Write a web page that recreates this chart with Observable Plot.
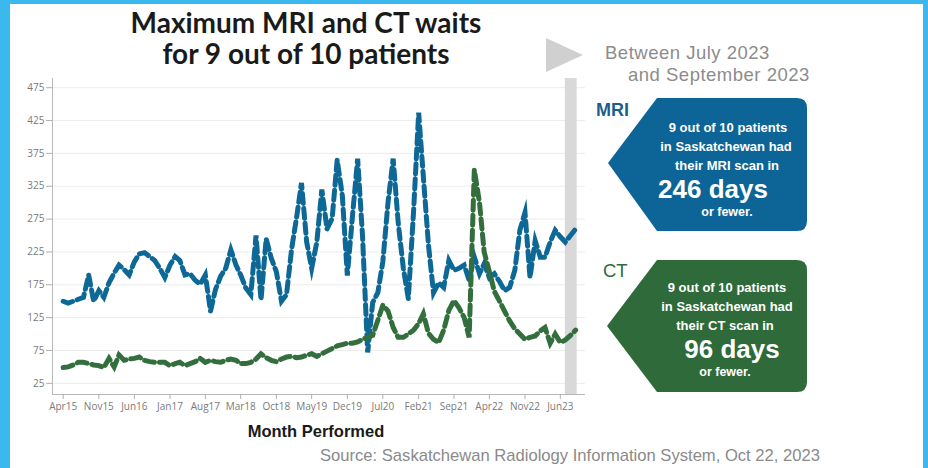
<!DOCTYPE html>
<html>
<head>
<meta charset="utf-8">
<script src="https://cdn.jsdelivr.net/npm/d3@7"></script>
<script src="https://cdn.jsdelivr.net/npm/@observablehq/plot@0.6"></script>
<style>
  html, body { margin: 0; padding: 0; background: #fff; }
  #wrap { position: relative; width: 928px; height: 468px; overflow: hidden; background: #fff; }
  #chart { position: absolute; left: 0; top: 0; }
  #overlay { position: absolute; left: 0; top: 0; pointer-events: none; }
</style>
</head>
<body>
<div id="wrap">
  <div id="chart"></div>
  <svg id="overlay" width="928" height="468" xmlns="http://www.w3.org/2000/svg">
    <rect x="0" y="0" width="10" height="468" fill="#3bb9ef"/>
    <rect x="0" y="0" width="928" height="4" fill="#3bb9ef"/>
    <rect x="923" y="0" width="5" height="468" fill="#3bb9ef"/>

    <text x="306" y="33" text-anchor="middle" font-family="Lato, sans-serif" font-weight="700" font-size="28" fill="#1a1a1a">Maximum MRI and CT waits</text>
    <text x="306" y="64" text-anchor="middle" font-family="Lato, sans-serif" font-weight="700" font-size="28" fill="#1a1a1a">for 9 out of 10 patients</text>

    <polygon points="546,38 583,55 546,72" fill="#d0d0d0"/>
    <text x="605" y="59" font-family="'Liberation Sans', Arial, sans-serif" font-size="18.5" letter-spacing="0.5" fill="#8c8c8c">Between July 2023</text>
    <text x="628" y="81" font-family="'Liberation Sans', Arial, sans-serif" font-size="18.5" letter-spacing="0.5" fill="#8c8c8c">and September 2023</text>

    <text x="596" y="116" font-family="'Liberation Sans', Arial, sans-serif" font-weight="700" font-size="18" fill="#1c5f8c">MRI</text>
    <path d="M657,98 H797 Q807,98 807,108 V221 Q807,231 797,231 H657 L608,163 Z" fill="#0d6597"/>
    <g font-family="'Liberation Sans', Arial, sans-serif" font-weight="700" fill="#ffffff" text-anchor="middle">
      <text x="728" y="132" font-size="13">9 out of 10 patients</text>
      <text x="726" y="151" font-size="13">in Saskatchewan had</text>
      <text x="727" y="170" font-size="13">their MRI scan in</text>
      <text x="713" y="198" font-size="26">246 days</text>
      <text x="727" y="216" font-size="12.5">or fewer.</text>
    </g>

    <text x="603" y="277" font-family="'Liberation Sans', Arial, sans-serif" font-size="18.5" fill="#2f6b3a">CT</text>
    <path d="M657,260 H797 Q807,260 807,270 V382 Q807,392 797,392 H657 L607,326 Z" fill="#2e6a3a"/>
    <g font-family="'Liberation Sans', Arial, sans-serif" font-weight="700" fill="#ffffff" text-anchor="middle">
      <text x="727" y="292" font-size="13">9 out of 10 patients</text>
      <text x="727" y="311" font-size="13">in Saskatchewan had</text>
      <text x="725" y="330" font-size="13">their CT scan in</text>
      <text x="732" y="358" font-size="26">96 days</text>
      <text x="725" y="376" font-size="12.5">or fewer.</text>
    </g>

    <text x="316" y="437" text-anchor="middle" font-family="'Liberation Sans', Arial, sans-serif" font-weight="700" font-size="16.5" fill="#1a1a1a">Month Performed</text>
    <text x="320" y="461" font-family="'Liberation Sans', Arial, sans-serif" font-size="16.6" fill="#8a8a8a">Source: Saskatchewan Radiology Information System, Oct 22, 2023</text>
  </svg>
</div>
<script>
// Monthly values, April 2015 through September 2023 (102 months)
const mriDays = [
  150,147,150,153,156,190,150,166,156,178,
  193,205,198,190,210,222,224,218,212,200,
  186,205,218,212,190,192,182,176,190,135,
  168,188,200,228,205,190,170,160,250,152,
  245,215,195,150,160,230,280,330,240,200,
  240,320,260,276,365,311,189,280,367,250,
  72,148,163,210,300,367,270,200,154,285,
  437,340,235,163,178,171,212,197,200,205,
  182,217,192,207,186,192,180,166,171,197,
  258,285,186,242,217,217,240,258,248,240,
  250,260
];
const ctDays = [
  49,50,53,57,57,55,53,52,49,63,
  50,68,60,62,63,65,60,58,57,57,
  57,52,55,57,52,55,58,63,57,60,
  58,57,60,62,60,55,55,57,62,70,
  64,60,58,62,65,66,64,65,68,70,
  66,70,74,78,82,84,86,86,88,92,
  95,98,121,144,135,110,95,95,100,106,
  116,131,101,92,87,106,136,151,140,125,
  95,350,300,225,195,165,150,135,120,108,
  100,92,95,97,105,110,86,100,87,91,
  98,106
];
const seriesNames = ["MRI", "CT"];
const seriesColors = ["#0e6896", "#336e3d"];
const yTicks = [25, 75, 125, 175, 225, 275, 325, 375, 425, 475];
const xTickLabels = ["Apr15","Nov15","Jun16","Jan17","Aug17","Mar18","Oct18","May19","Dec19","Jul20","Feb21","Sep21","Apr22","Nov22","Jun23"];
const highlight = [{start: "2023-07-01", end: "2023-09-10"}];

const months = d3.utcMonth.range(new Date(Date.UTC(2015, 3, 1)), new Date(Date.UTC(2023, 9, 1)));
const rows = [];
months.forEach((d, i) => {
  rows.push({date: d, series: "MRI", days: mriDays[i]});
});
months.forEach((d, i) => {
  rows.push({date: d, series: "CT", days: ctDays[i]});
});
const parseTick = d3.utcParse("%b%y");
const tickDates = xTickLabels.map(parseTick);
const band = highlight.map(b => ({start: new Date(b.start), end: new Date(b.end)}));
const xDomain = [new Date(Date.UTC(2015, 0, 27)), new Date(Date.UTC(2023, 9, 30))];
const yDomain = [8, 489];

const chart = Plot.plot({
  width: 928,
  height: 468,
  marginLeft: 52,
  marginRight: 343,
  marginTop: 78,
  marginBottom: 74,
  style: {fontFamily: "'Open Sans', sans-serif", fontSize: "10px", color: "#7a7a7a", background: "transparent"},
  x: {type: "utc", domain: xDomain},
  y: {domain: yDomain},
  color: {domain: seriesNames, range: seriesColors},
  marks: [
    Plot.gridY(yTicks, {stroke: "#ececec", strokeOpacity: 1}),
    Plot.rect(band, {x1: "start", x2: "end", y1: yDomain[0], y2: yDomain[1], fill: "#d9d9d9"}),
    Plot.ruleY([yDomain[0]], {stroke: "#b8b8b8"}),
    Plot.ruleX([xDomain[0]], {stroke: "#b8b8b8"}),
    Plot.axisY(yTicks, {tickSize: 6, tickPadding: 2, label: null, stroke: "#b0b0b0"}),
    Plot.axisX(tickDates, {tickSize: 5, tickPadding: 3, tickFormat: d3.utcFormat("%b%y"), label: null, stroke: "#b0b0b0"}),
    Plot.lineY(rows, {x: "date", y: "days", z: "series", stroke: "series", strokeWidth: 5, strokeDasharray: "10,5", strokeLinejoin: "miter", strokeMiterlimit: 6})
  ]
});
document.getElementById("chart").appendChild(chart);
</script>
</body>
</html>
